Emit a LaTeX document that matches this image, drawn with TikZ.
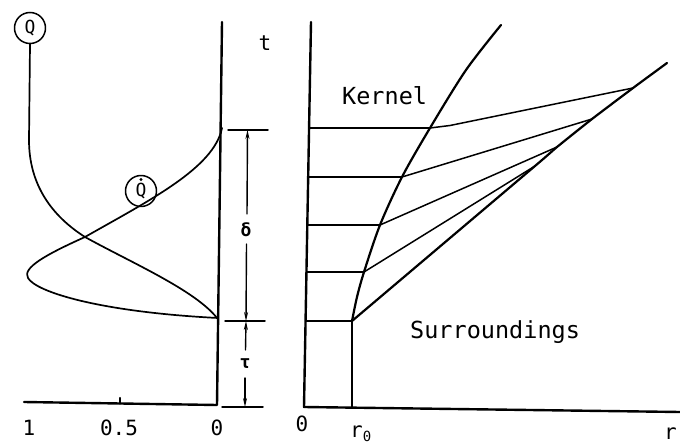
\documentclass[tikz,border=0pt]{standalone}
\usepackage{fontspec}
\setmainfont{DejaVu Sans Mono}
\usetikzlibrary{arrows.meta}
\begin{document}
\begin{tikzpicture}[x=1pt,y=-1pt, line cap=round, line join=round,
  ax/.style={line width=2.4pt},
  crv/.style={line width=1.7pt},
  thn/.style={line width=1.5pt},
  lbl/.style={font=\fontsize{21}{21}\selectfont, inner sep=0pt},
  wlbl/.style={font=\fontsize{23.5}{23.5}\selectfont, inner sep=0pt, anchor=west},
  circlab/.style={circle, draw, line width=1.5pt, minimum size=31pt, inner sep=0pt, font=\fontsize{18}{18}\selectfont},
  dimarr/.style={line width=1.4pt, -{Stealth[length=9pt,width=4pt]}}]
\useasboundingbox (0,0) rectangle (680,446);

% ---------- left panel ----------
\coordinate (LO) at (217,405);
\coordinate (LT) at (222,22);
\coordinate (LL) at (24,402);
\draw[ax] (LL) -- (LO) -- (LT);
\draw[ax] (120,403.5) -- (120,398);

\node[circlab] (Q) at (30,28) {Q};
\draw[crv] (Q.south) -- (29,140)
  .. controls (29,185) and (52,216) .. (85,237)
  .. controls (130,262) and (195,290) .. (217,318);

\node[circlab] (Qd) at (141,191) {\raisebox{-2pt}{Q}};
\fill (141,179.5) circle (1.7pt);
\draw[crv] (222,128)
  .. controls (214,168) and (150,200) .. (85,237)
  .. controls (45,255) and (22,268) .. (28,278)
  .. controls (36,292) and (100,312) .. (218,318);

\node[lbl] (t) at (265,43) {t};

% dimension marks
\coordinate (d1a) at (228,130); \coordinate (d1b) at (268,130);
\coordinate (d2a) at (225,321); \coordinate (d2b) at (265,321);
\coordinate (d3a) at (222,407); \coordinate (d3b) at (263,407);
\draw[thn] (d1a) -- (d1b);
\draw[thn] (d2a) -- (d2b);
\draw[thn] (d3a) -- (d3b);
\node[lbl, font=\bfseries\fontsize{18}{18}\selectfont] (del) at (246,230) {δ};
\node[lbl, font=\bfseries\fontsize{18}{18}\selectfont] (tau) at (245,364) {τ};
\coordinate (v1) at (247.5,130);
\coordinate (v2) at (246,321);
\coordinate (v3) at (245,407);
\draw[dimarr] (247,214) -- (v1);
\draw[dimarr] (246.5,244) -- (v2);
\draw[dimarr] (245.5,350) -- (v2);
\draw[dimarr] (245,378) -- (v3);

\node[lbl] (one) at (29,428) {1};
\node[lbl] (half) at (119,428) {0.5};
\node[lbl] (zl) at (217,428) {0};

% ---------- right panel ----------
\coordinate (RO) at (304,407);
\coordinate (RT) at (311,22);
\coordinate (RR) at (680,412);
\draw[ax] (RT) -- (RO) -- (RR);

\coordinate (k0) at (352,321);
\coordinate (k1) at (364,272);
\coordinate (k2) at (380,225);
\coordinate (k3) at (402,177);
\coordinate (k4) at (430,128);
\draw[ax, line width=2.2pt] (352,407) -- (k0);
\draw[ax, line width=2.2pt] plot[smooth, tension=0.5] coordinates {(k0) (357,297) (k1) (k2) (k3) (k4) (466,70) (501,25)};

\draw[thn] (307,321) -- (k0);
\draw[thn] (307,272) -- (k1);
\draw[thn] (308,225) -- (k2);
\draw[thn] (309,177) -- (k3);
\draw[thn] (310,128) -- (k4);

\coordinate (e4) at (535,166);
\coordinate (e3) at (557,147);
\coordinate (e2) at (592,119);
\coordinate (e1) at (633,88);
\coordinate (e0) at (667,63);
\draw[ax, line width=2.2pt] plot[smooth, tension=0.3] coordinates {(k0) (e4) (e3) (e2) (e1) (e0)};
\draw[thn] (k1) -- (e4);
\draw[thn] (k2) -- (e3);
\draw[thn] (k3) -- (e2);
\draw[thn] (k4) -- (450,125.5) -- (e1);

\node[wlbl] (kern) at (342,96) {Kernel};
\node[wlbl] (surr) at (410,332) {Surroundings};

\node[lbl] (z0) at (302,424) {0};
\node[lbl, anchor=north west] (r0) at (350,426) {r\raisebox{-4pt}{\fontsize{14}{14}\selectfont 0}};
\node[lbl, anchor=north west] (r) at (664,428) {r};
\end{tikzpicture}
\end{document}
